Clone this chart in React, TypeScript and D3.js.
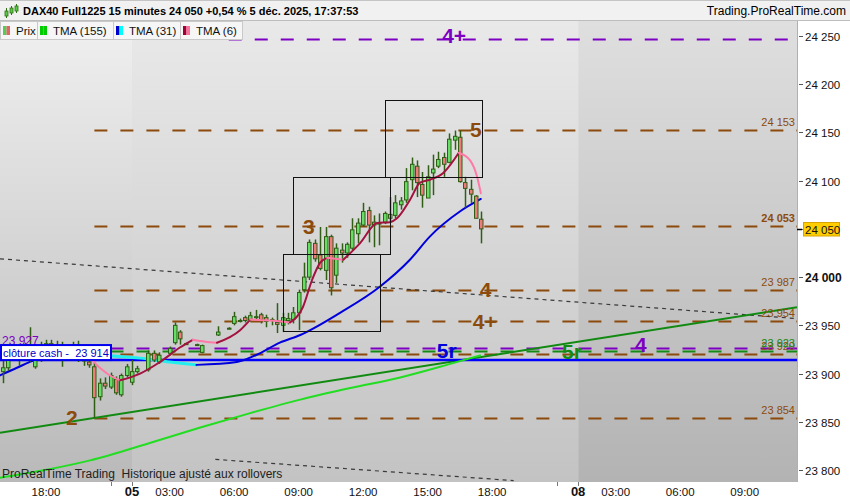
import { useEffect, useRef } from 'react';
import * as d3 from 'd3';

// Bars are 15 minutes, counted from the 5 déc. open at 01:15 (83 bars per session)
const SESSION_BARS = 83;
const SESSION_OPEN_MIN = 75;
const dayOffset: Record<string, number> = { '04': -1, '05': 0, '08': 1 };

// [bar, open, high, low, close]
const candles: [number, number, number, number, number][] = [
  [-24, 23902, 23917, 23890, 23906],
  [-23, 23906, 23922, 23903, 23919],
  [-22, 23919, 23930, 23915, 23925],
  [-21, 23925, 23929, 23908, 23917],
  [-20, 23917, 23932, 23914, 23927],
  [-19, 23927, 23948, 23912, 23914],
  [-18, 23907, 23930, 23905, 23921],
  [-17, 23921, 23933, 23912, 23928],
  [-16, 23928, 23935, 23918, 23931],
  [-15, 23931, 23935, 23915, 23922],
  [-14, 23922, 23934, 23918, 23929],
  [-13, 23929, 23933, 23907, 23918],
  [-12, 23918, 23930, 23914, 23926],
  [-11, 23926, 23933, 23920, 23930],
  [-10, 23930, 23934, 23912, 23919],
  [-9, 23919, 23927, 23908, 23913],
  [-8, 23912, 23914, 23906, 23909],
  [-7, 23907, 23912, 23854, 23875],
  [-6, 23876, 23895, 23872, 23890],
  [-5, 23890, 23896, 23884, 23887],
  [-4, 23886, 23901, 23884, 23898],
  [-3, 23894, 23897, 23878, 23880],
  [-2, 23878, 23900, 23876, 23898],
  [-1, 23898, 23910, 23896, 23907],
  [0, 23891, 23914, 23888, 23902],
  [1, 23902, 23908, 23900, 23905],
  [3, 23904, 23924, 23902, 23921],
  [4, 23921, 23924, 23912, 23914],
  [5, 23912, 23922, 23910, 23919],
  [7, 23921, 23928, 23919, 23926],
  [8, 23932, 23953, 23930, 23950],
  [9, 23943, 23945, 23930, 23936],
  [10, 23931, 23932, 23930, 23931],
  [12, 23930, 23931, 23929, 23930],
  [13, 23922, 23930, 23921, 23929],
  [16, 23940, 23949, 23939, 23943],
  [18, 23947, 23948, 23946, 23947],
  [19, 23952, 23964, 23950, 23959],
  [20, 23954, 23957, 23953, 23955],
  [21, 23958, 23960, 23953, 23955],
  [22, 23956, 23964, 23954, 23960],
  [23, 23958, 23966, 23955, 23959],
  [24, 23961, 23963, 23952, 23956],
  [25, 23958, 23961, 23948, 23954],
  [26, 23955, 23958, 23950, 23956],
  [27, 23953, 23973, 23942, 23951],
  [28, 23950, 23963, 23943, 23958],
  [29, 23955, 23963, 23951, 23957],
  [30, 23956, 23969, 23952, 23963],
  [31, 23963, 23987, 23945, 23984],
  [32, 23987, 24015, 23984, 24000],
  [33, 24000, 24039, 23997, 24036],
  [34, 24035, 24039, 24016, 24019],
  [35, 24023, 24052, 24007, 24009],
  [36, 24007, 24052, 23997, 24042],
  [37, 24042, 24044, 23981, 23989],
  [38, 24002, 24035, 23994, 24030],
  [39, 24028, 24035, 24015, 24025],
  [40, 24025, 24036, 24020, 24034],
  [41, 24030, 24061, 24028, 24049],
  [42, 24045, 24061, 24035, 24056],
  [43, 24054, 24077, 24052, 24068],
  [44, 24069, 24073, 24036, 24054],
  [45, 24057, 24064, 24031, 24054],
  [46, 24056, 24066, 24033, 24055],
  [47, 24057, 24068, 24055, 24066],
  [48, 24061, 24083, 24056, 24065],
  [49, 24064, 24085, 24061, 24077],
  [50, 24075, 24083, 24070, 24079],
  [51, 24080, 24113, 24077, 24099],
  [52, 24101, 24124, 24090, 24117],
  [53, 24115, 24121, 24083, 24098],
  [54, 24096, 24109, 24072, 24085],
  [55, 24082, 24116, 24082, 24104],
  [56, 24108, 24127, 24085, 24112],
  [57, 24115, 24130, 24113, 24122],
  [58, 24124, 24129, 24104, 24117],
  [59, 24119, 24149, 24118, 24143],
  [60, 24142, 24152, 24132, 24146],
  [61, 24145, 24152, 24098, 24099],
  [62, 24098, 24104, 24072, 24092],
  [63, 24091, 24101, 24077, 24086],
  [64, 24084, 24085, 24061, 24061],
  [65, 24060, 24068, 24035, 24050],
];

// [bar, value]
const tma155: [number, number][] = [
  [-24.6, 23792], [-16.2, 23800], [-7.8, 23810], [3.3, 23828], [12.7, 23844], [22, 23859],
  [31.3, 23873], [40.6, 23885], [49.9, 23896], [59.2, 23910], [64.9, 23919],
];
const tma31: [number, number][] = [
  [-24.6, 23898], [-21.4, 23906], [-18, 23914], [-11.5, 23919], [-6, 23919], [1.5, 23916],
  [7, 23912], [12, 23909], [19.5, 23912], [23, 23919], [27.5, 23932], [31.3, 23940],
  [38.7, 23963], [46.1, 23990], [51.7, 24018], [55.4, 24042], [61, 24068], [64.9, 24081],
];
const tma6: [number, number][] = [
  [-24.6, 23922], [-19, 23924], [-13.4, 23925], [-8.7, 23920], [-6, 23906], [-4.1, 23898],
  [-2.2, 23893], [1.5, 23900], [5.2, 23912], [8.9, 23927], [11.3, 23935], [13.6, 23933],
  [15.8, 23932], [20.1, 23945], [22, 23956], [25.7, 23955], [29.4, 23953], [31.8, 23969],
  [33.5, 23997], [35, 24015], [36.3, 24020], [39.3, 24018], [42.4, 24035], [45.6, 24056],
  [48, 24057], [49.3, 24061], [51.7, 24080], [53.6, 24098], [55.4, 24101], [57.9, 24108],
  [60.8, 24129], [62.9, 24121], [64.2, 24104], [64.9, 24087],
];

const brownLevels = [24153, 24053, 23987, 23954, 23920, 23854];
const brownFrom = -7;
const purpleLevels = [{ value: 24247, from: 18 }, { value: 23927, from: -4 }];
const greenLevels = [{ value: 23923, from: -4 }];
const cashClose = 23914;
const lastPrice = 24050;

// two points on each line, extended over the whole chart where needed
const trendLine: [number, number][] = [[-7, 23854], [124, 23969]];
const upperDotted: [number, number][] = [[-24.56, 24019], [123.72, 23957]];
const lowerDotted: [number, number][] = [[15.5, 23811], [71, 23789]];

const boxes = [
  { from: 28, to: 46, low: 23944, high: 24024 },
  { from: 30, to: 48, low: 24024, high: 24104 },
  { from: 47, to: 65, low: 24104, high: 24184 },
];

const waveLabels = [
  { text: '2', bar: -12.3, price: 23847, kind: 'brown' },
  { text: '3', bar: 31.8, price: 24045, kind: 'brown' },
  { text: '5', bar: 62.9, price: 24145, kind: 'brown' },
  { text: '4', bar: 64.7, price: 23979, kind: 'brown' },
  { text: '4+', bar: 63.4, price: 23946, kind: 'brown' },
  { text: '4+', bar: 57.7, price: 24243, kind: 'purple' },
  { text: '5r', bar: 56.7, price: 23916, kind: 'blue' },
  { text: '5r', bar: 80, price: 23915, kind: 'green' },
  { text: '4', bar: 93.6, price: 23922, kind: 'purple' },
];

const priceTicks = d3.range(23800, 24251, 50);
const timeTicks = [
  { day: '04', time: '18:00' },
  { day: '05', time: '01:15', label: '05', bold: true },
  { day: '05', time: '03:00' },
  { day: '05', time: '06:00' },
  { day: '05', time: '09:00' },
  { day: '05', time: '12:00' },
  { day: '05', time: '15:00' },
  { day: '05', time: '18:00' },
  { day: '08', time: '01:15', label: '08', bold: true },
  { day: '08', time: '03:00' },
  { day: '08', time: '06:00' },
  { day: '08', time: '09:00' },
];
const minorTicks = [{ day: '04', time: '21:00' }, { day: '05', time: '21:00' }];

function barIndex(day: string, time: string) {
  const [h, m] = time.split(':').map(Number);
  return dayOffset[day] * SESSION_BARS + (h * 60 + m - SESSION_OPEN_MIN) / 15;
}

const fmt = (v: number) => d3.format(',')(v).replace(',', ' ');

const FONT = "'Liberation Sans', Arial, sans-serif";
const COLORS: Record<string, string> = {
  brown: '#8c4b0c',
  purple: '#7d00c2',
  blue: '#0000dd',
  green: '#138a13',
};

export default function App() {
  const svgRef = useRef<SVGSVGElement>(null);

  useEffect(() => {
    document.body.style.margin = '0';
    if (!svgRef.current) return;
    const svg = d3.select(svgRef.current);
    svg.selectAll('*').remove();
    svg.style('font-family', FONT);

    const plot = { left: 0, right: 797, top: 20, bottom: 482 };
    const x = d3.scaleLinear().domain([-24.56, 123.72]).range([plot.left, plot.right]);
    const y = d3.scaleLinear().domain([23800, 24250]).range([470, 36]);

    const defs = svg.append('defs');
    defs.append('clipPath').attr('id', 'plot-clip')
      .append('rect')
      .attr('x', plot.left).attr('y', plot.top)
      .attr('width', plot.right - plot.left).attr('height', plot.bottom - plot.top);

    // session background bands
    const bands = [
      { id: 'bandA', from: x.domain()[0], to: 0, top: '#f0f0f0', bottom: '#b9b9b9' },
      { id: 'bandB', from: 0, to: SESSION_BARS, top: '#e9e9e9', bottom: '#c3c3c3' },
      { id: 'bandC', from: SESSION_BARS, to: x.domain()[1], top: '#dfdfdf', bottom: '#b3b3b3' },
    ];
    bands.forEach(b => {
      const grad = defs.append('linearGradient').attr('id', b.id)
        .attr('x1', 0).attr('y1', 0).attr('x2', 0).attr('y2', 1);
      grad.append('stop').attr('offset', '0%').attr('stop-color', b.top);
      grad.append('stop').attr('offset', '100%').attr('stop-color', b.bottom);
      svg.append('rect')
        .attr('x', x(b.from)).attr('y', plot.top)
        .attr('width', x(b.to) - x(b.from)).attr('height', plot.bottom - plot.top)
        .attr('fill', `url(#${b.id})`);
    });

    const g = svg.append('g').attr('clip-path', 'url(#plot-clip)');

    // horizontal levels
    const level = (value: number, from: number, color: string, dash = '13 13', width = 2) => {
      g.append('line')
        .attr('x1', x(from)).attr('x2', plot.right)
        .attr('y1', Math.round(y(value)) + 0.5).attr('y2', Math.round(y(value)) + 0.5)
        .attr('stroke', color).attr('stroke-width', width)
        .attr('stroke-dasharray', dash);
    };
    brownLevels.forEach(v => level(v, brownFrom, COLORS.brown));
    greenLevels.forEach(l => level(l.value, l.from, COLORS.green));
    purpleLevels.forEach(l => level(l.value, l.from, COLORS.purple));

    // dotted channel lines
    const straight = d3.line<[number, number]>().x(d => x(d[0])).y(d => y(d[1]));
    [upperDotted, lowerDotted].forEach(pts => {
      g.append('path').attr('d', straight(pts)!)
        .attr('fill', 'none').attr('stroke', '#3a3a3a').attr('stroke-width', 1.2)
        .attr('stroke-dasharray', '4 4');
    });

    // trend line, extended across the chart
    const [[b1, p1], [b2, p2]] = trendLine;
    const slope = (p2 - p1) / (b2 - b1);
    const [d0, d1] = x.domain();
    const trendExt: [number, number][] = [[d0, p1 + slope * (d0 - b1)], [d1, p1 + slope * (d1 - b1)]];
    g.append('path').attr('d', straight(trendExt)!)
      .attr('fill', 'none').attr('stroke', '#118a11').attr('stroke-width', 2);

    // cash close
    g.append('line')
      .attr('x1', plot.left).attr('x2', plot.right)
      .attr('y1', y(cashClose)).attr('y2', y(cashClose))
      .attr('stroke', '#0000ff').attr('stroke-width', 2.5);

    const curve = d3.line<[number, number]>().x(d => x(d[0])).y(d => y(d[1])).curve(d3.curveMonotoneX);
    const directional = (pts: [number, number][], up: string, down: string, upW: number, downW: number) => {
      const runs: { up: boolean; pts: [number, number][] }[] = [];
      for (let k = 0; k < pts.length - 1; k++) {
        const isUp = pts[k + 1][1] >= pts[k][1];
        const last = runs[runs.length - 1];
        if (last && last.up === isUp) last.pts.push(pts[k + 1]);
        else runs.push({ up: isUp, pts: [pts[k], pts[k + 1]] });
      }
      runs.forEach(r => {
        g.append('path').attr('d', curve(r.pts)!)
          .attr('fill', 'none')
          .attr('stroke', r.up ? up : down)
          .attr('stroke-width', r.up ? upW : downW)
          .attr('stroke-linecap', 'round');
      });
    };

    // TMA 155
    g.append('path').attr('d', curve(tma155)!)
      .attr('fill', 'none').attr('stroke', '#22dd22').attr('stroke-width', 2);

    // TMA 31
    directional(tma31, '#0000dd', '#22eeee', 2, 3);

    // candles
    const WICK = '#2f5e14';
    const cg = g.append('g');
    candles.forEach(([i, o, h, l, c]) => {
      const cx = Math.round(x(i)) + 0.5;
      cg.append('line')
        .attr('x1', cx).attr('x2', cx).attr('y1', y(h)).attr('y2', y(l))
        .attr('stroke', WICK).attr('stroke-width', 1.5);
      const top = y(Math.max(o, c));
      const bot = y(Math.min(o, c));
      cg.append('rect')
        .attr('x', cx - 2).attr('y', top)
        .attr('width', 3.5).attr('height', Math.max(1, bot - top))
        .attr('fill', c >= o ? '#66dd66' : '#ef7b7b')
        .attr('stroke', WICK).attr('stroke-width', 1);
    });

    // TMA 6
    directional(tma6, '#a3123f', '#ff7aa6', 2, 2);

    // boxes
    boxes.forEach(b => {
      g.append('rect')
        .attr('x', Math.round(x(b.from)) + 0.5).attr('y', Math.round(y(b.high)) + 0.5)
        .attr('width', Math.round(x(b.to) - x(b.from))).attr('height', Math.round(y(b.low) - y(b.high)))
        .attr('fill', 'none').attr('stroke', '#111').attr('stroke-width', 1);
    });

    // wave labels
    waveLabels.forEach(w => {
      g.append('text')
        .attr('x', x(w.bar)).attr('y', y(w.price))
        .attr('fill', COLORS[w.kind])
        .style('font-size', '21px').style('font-weight', 'bold')
        .text(w.text);
    });

    // level values on the right edge
    const edgeLabel = (v: number, color: string, bold = false) => {
      g.append('text')
        .attr('x', plot.right - 2).attr('y', y(v) - 4)
        .attr('text-anchor', 'end').attr('fill', color)
        .style('font-size', '11px').style('font-weight', bold ? 'bold' : 'normal')
        .text(fmt(v));
    };
    brownLevels.forEach(v => edgeLabel(v, COLORS.brown, v === 24053));
    greenLevels.forEach(l => edgeLabel(l.value, COLORS.green));

    // purple value on the left edge
    g.append('text')
      .attr('x', 2).attr('y', y(purpleLevels[1].value) - 3)
      .attr('fill', COLORS.purple).style('font-size', '12px')
      .text(fmt(purpleLevels[1].value));

    // cash close tag
    const cy = y(cashClose);
    svg.append('rect')
      .attr('x', 1).attr('y', cy - 15).attr('width', 110).attr('height', 15)
      .attr('fill', '#fff').attr('stroke', '#0000ee').attr('stroke-width', 2);
    svg.append('text')
      .attr('x', 3).attr('y', cy - 3.5)
      .attr('fill', '#0000cc').style('font-size', '11px').style('white-space', 'pre')
      .text(`clôture cash -  ${fmt(cashClose)}`);

    svg.append('text')
      .attr('x', 2).attr('y', 478)
      .attr('fill', '#222').style('font-size', '12px').style('white-space', 'pre')
      .text('ProRealTime Trading  Historique ajusté aux rollovers');

    // axes frame
    svg.append('rect').attr('x', plot.right).attr('y', plot.top).attr('width', 850 - plot.right).attr('height', 500 - plot.top).attr('fill', '#fff');
    svg.append('rect').attr('x', 0).attr('y', plot.bottom).attr('width', 850).attr('height', 500 - plot.bottom).attr('fill', '#fff');
    svg.append('line').attr('x1', plot.right + 0.5).attr('x2', plot.right + 0.5).attr('y1', plot.top).attr('y2', plot.bottom)
      .attr('stroke', '#b0b0b0');

    // price axis
    priceTicks.forEach(v => {
      const ty = Math.round(y(v)) + 0.5;
      svg.append('line').attr('x1', plot.right + 2).attr('x2', plot.right + 6).attr('y1', ty).attr('y2', ty).attr('stroke', '#555');
      svg.append('text')
        .attr('x', plot.right + 8).attr('y', ty + 4)
        .attr('fill', '#111')
        .style('font-size', v === 24000 ? '12px' : '11.5px')
        .style('font-weight', v === 24000 ? 'bold' : 'normal')
        .text(fmt(v));
    });

    // last price tag
    const ly = Math.round(y(lastPrice)) + 0.5;
    svg.append('line').attr('x1', plot.right).attr('x2', plot.right + 5).attr('y1', ly).attr('y2', ly).attr('stroke', '#000').attr('stroke-width', 1.5);
    svg.append('rect')
      .attr('x', plot.right + 6.5).attr('y', ly - 7).attr('width', 36).attr('height', 13.5)
      .attr('fill', '#ffcc00').attr('stroke', '#d8a400');
    svg.append('text')
      .attr('x', plot.right + 8).attr('y', ly + 4)
      .attr('fill', '#111').style('font-size', '11.5px')
      .text(fmt(lastPrice));

    // time axis
    timeTicks.forEach(t => {
      const tx = x(barIndex(t.day, t.time));
      svg.append('text')
        .attr('x', tx).attr('y', 496)
        .attr('text-anchor', 'middle').attr('fill', '#111')
        .style('font-size', t.bold ? '13px' : '11.5px')
        .style('font-weight', t.bold ? 'bold' : 'normal')
        .text(t.label ?? t.time);
      if (t.bold) {
        svg.append('line').attr('x1', Math.round(tx) + 0.5).attr('x2', Math.round(tx) + 0.5)
          .attr('y1', plot.bottom).attr('y2', plot.bottom + 4).attr('stroke', '#777');
      }
    });
    minorTicks.forEach(t => {
      const tx = Math.round(x(barIndex(t.day, t.time))) + 0.5;
      svg.append('line').attr('x1', tx).attr('x2', tx)
        .attr('y1', plot.bottom).attr('y2', plot.bottom + 4).attr('stroke', '#777');
    });

    // header
    svg.append('rect').attr('x', 0).attr('y', 0).attr('width', 850).attr('height', 20).attr('fill', '#f1f1f1');
    svg.append('line').attr('x1', 0).attr('x2', 850).attr('y1', 0.5).attr('y2', 0.5).attr('stroke', '#c4c4c4');
    svg.append('line').attr('x1', 0).attr('x2', 850).attr('y1', 20.5).attr('y2', 20.5).attr('stroke', '#bdbdbd');
    [[6, 11, 16, 8, 18], [11, 8, 13, 6, 15], [16, 6, 11, 4, 13]].forEach(([cx, bt, bb, w1, w2]) => {
      svg.append('line').attr('x1', cx + 0.5).attr('x2', cx + 0.5).attr('y1', w1).attr('y2', w2).attr('stroke', '#2f6e14');
      svg.append('rect').attr('x', cx - 1).attr('y', bt).attr('width', 3).attr('height', bb - bt)
        .attr('fill', '#55cc44').attr('stroke', '#2f6e14').attr('stroke-width', 0.8);
    });
    svg.append('text')
      .attr('x', 23).attr('y', 15)
      .attr('fill', '#000').style('font-size', '11px').style('font-weight', 'bold')
      .text('DAX40 Full1225 15 minutes 24 050 +0,54 % 5 déc. 2025, 17:37:53');
    svg.append('text')
      .attr('x', 846).attr('y', 15).attr('text-anchor', 'end')
      .attr('fill', '#000').style('font-size', '12px')
      .text('Trading.ProRealTime.com');

    // legend tabs
    const tabs = [
      { label: 'Prix', x0: 0, x1: 37, colors: ['#55cc55', '#e06666'] },
      { label: 'TMA (155)', x0: 37, x1: 113, colors: ['#00cc00', '#00cc00'] },
      { label: 'TMA (31)', x0: 113, x1: 180, colors: ['#0000cc', '#00ffff'] },
      { label: 'TMA (6)', x0: 180, x1: 242, colors: ['#a00038', '#ff6f9c'] },
    ];
    tabs.forEach(t => {
      svg.append('rect')
        .attr('x', t.x0 + 0.5).attr('y', 21.5).attr('width', t.x1 - t.x0).attr('height', 18)
        .attr('fill', '#f6f6f6').attr('stroke', '#c9c9c9');
      svg.append('rect').attr('x', t.x0 + 3).attr('y', 26).attr('width', 3.5).attr('height', 9).attr('fill', t.colors[0]);
      svg.append('rect').attr('x', t.x0 + 6.5).attr('y', 26).attr('width', 3.5).attr('height', 9).attr('fill', t.colors[1]);
      svg.append('text')
        .attr('x', t.x0 + 16).attr('y', 35)
        .attr('fill', '#111').style('font-size', '11.5px')
        .text(t.label);
    });
  }, []);

  return <svg ref={svgRef} width={850} height={500} style={{ display: 'block' }} />;
}
